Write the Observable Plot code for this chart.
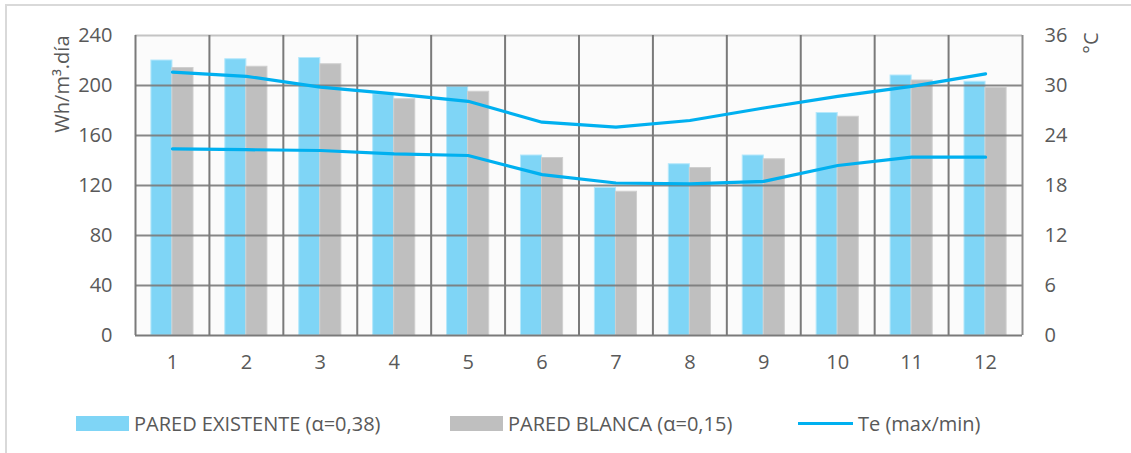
<!DOCTYPE html>
<html>
<head>
<meta charset="utf-8">
<script src="https://cdn.jsdelivr.net/npm/d3@7"></script>
<script src="https://cdn.jsdelivr.net/npm/@observablehq/plot@0.6"></script>
<style>
  html, body { margin: 0; padding: 0; background: #ffffff; }
  body { width: 1131px; height: 453px; overflow: hidden; position: relative; font-family: "Open Sans", sans-serif; }
  #border { position: absolute; left: 5px; top: 4px; right: -10px; bottom: -10px; border-left: 2px solid #d9d9d9; border-top: 2px solid #d9d9d9; }
  #chart { position: absolute; left: 0; top: 0; }
  #legend { position: absolute; left: 0; top: 409px; width: 1131px; height: 28px; font-size: 20px; color: #595959; }
  .item { position: absolute; top: 0; display: flex; align-items: center; height: 28px; white-space: nowrap; }
  .sw { width: 53px; height: 15px; margin-right: 5px; }
  .ln { width: 55px; height: 3px; margin-right: 5px; }
</style>
</head>
<body>
<div id="border"></div>
<div id="chart"></div>
<div id="legend"></div>
<script>
// Monthly energy (Wh/m³·día) for the two wall finishes and exterior temperature (°C)
const months = [1, 2, 3, 4, 5, 6, 7, 8, 9, 10, 11, 12];
const paredExistente = [220, 221, 222, 193, 199, 144, 118, 137, 144, 178, 208, 203];
const paredBlanca = [214, 215, 217, 189, 195, 142, 115, 134, 141, 175, 204, 198];
const teMax = [31.6, 31.1, 29.8, 29.0, 28.1, 25.6, 25.0, 25.8, 27.3, 28.7, 29.9, 31.4];
const teMin = [22.4, 22.3, 22.2, 21.8, 21.6, 19.3, 18.3, 18.2, 18.5, 20.4, 21.4, 21.4];

const leftTicks = [0, 40, 80, 120, 160, 200, 240];
const rightTicks = [0, 6, 12, 18, 24, 30, 36];

const seriesNames = ["PARED EXISTENTE (α=0,38)", "PARED BLANCA (α=0,15)", "Te (max/min)"];
const colors = ["#7fd5f6", "#bfbfbf", "#00b0f0"];

// temperature axis (0–36 °C) shares the frame with the energy axis (0–240)
const k = 240 / 36;
const barHalf = 0.285; // bar width in month units

const bars = months.flatMap((m, i) => [
  {m, x1: m - barHalf, x2: m, v: paredExistente[i], s: seriesNames[0]},
  {m, x1: m, x2: m + barHalf, v: paredBlanca[i], s: seriesNames[1]}
]);
const temps = months.flatMap((m, i) => [
  {m, t: teMax[i], z: "max"},
  {m, t: teMin[i], z: "min"}
]);
const bounds = d3.range(0.5, 13, 1);

const font = "'Open Sans', sans-serif";

const plot = Plot.plot({
  width: 1131,
  height: 395,
  marginLeft: 135,
  marginRight: 109,
  marginTop: 35,
  marginBottom: 60,
  style: {fontFamily: font, fontSize: "20px", color: "#595959", background: "transparent"},
  x: {domain: [0.5, 12.5], axis: null},
  y: {domain: [0, 240], axis: null},
  color: {domain: seriesNames, range: colors},
  marks: [
    Plot.frame({fill: "#fbfbfb", stroke: null}),
    Plot.rectY(bars, {x1: "x1", x2: "x2", y: "v", fill: "s", stroke: d => d.s === seriesNames[0] ? "#b5e8fb" : "#cfcfcf", strokeWidth: 1}),
    // horizontal gridlines drawn over the bars
    Plot.ruleY(leftTicks.slice(1, -1), {stroke: "#7a7a7a", strokeWidth: 2, strokeOpacity: 0.9}),
    Plot.ruleY([240], {stroke: "#c4c4c4", strokeWidth: 2}),
    Plot.ruleX(bounds.slice(0, -1), {stroke: "#7a7a7a", strokeWidth: 2}),
    Plot.ruleX([12.5], {stroke: "#8c8c8c", strokeWidth: 2}),
    Plot.ruleY([0], {stroke: "#7a7a7a", strokeWidth: 2}),
    Plot.line(temps, {x: "m", y: d => d.t * k, z: "z", stroke: colors[2], strokeWidth: 3.2, strokeLinecap: "round", strokeLinejoin: "round"}),
    Plot.axisY(leftTicks, {anchor: "left", tickSize: 0, tickPadding: 23, label: null, fontSize: 20}),
    Plot.axisY(leftTicks, {anchor: "right", tickSize: 0, tickPadding: 22, label: null, fontSize: 20, tickFormat: d => d3.format("d")(d / k)}),
    Plot.axisX(months, {anchor: "bottom", tickSize: 0, tickPadding: 19, label: null, fontSize: 20}),
    Plot.text(["Wh/m³.día"], {frameAnchor: "top-left", dx: -81, dy: 0, rotate: -90, textAnchor: "end", fontSize: 20, fill: "#595959"}),
    Plot.text(["°C"], {frameAnchor: "top-right", dx: 61, dy: -3, rotate: -90, textAnchor: "end", fontSize: 20, fill: "#595959"})
  ]
});
document.getElementById("chart").append(plot);

// legend below the chart
const legend = document.getElementById("legend");
const lefts = [76, 450, 798];
seriesNames.forEach((name, i) => {
  const item = document.createElement("div");
  item.className = "item";
  item.style.left = lefts[i] + "px";
  const sw = document.createElement("div");
  sw.className = i < 2 ? "sw" : "ln";
  sw.style.background = colors[i];
  const label = document.createElement("span");
  label.textContent = name;
  item.append(sw, label);
  legend.append(item);
});
</script>
</body>
</html>
